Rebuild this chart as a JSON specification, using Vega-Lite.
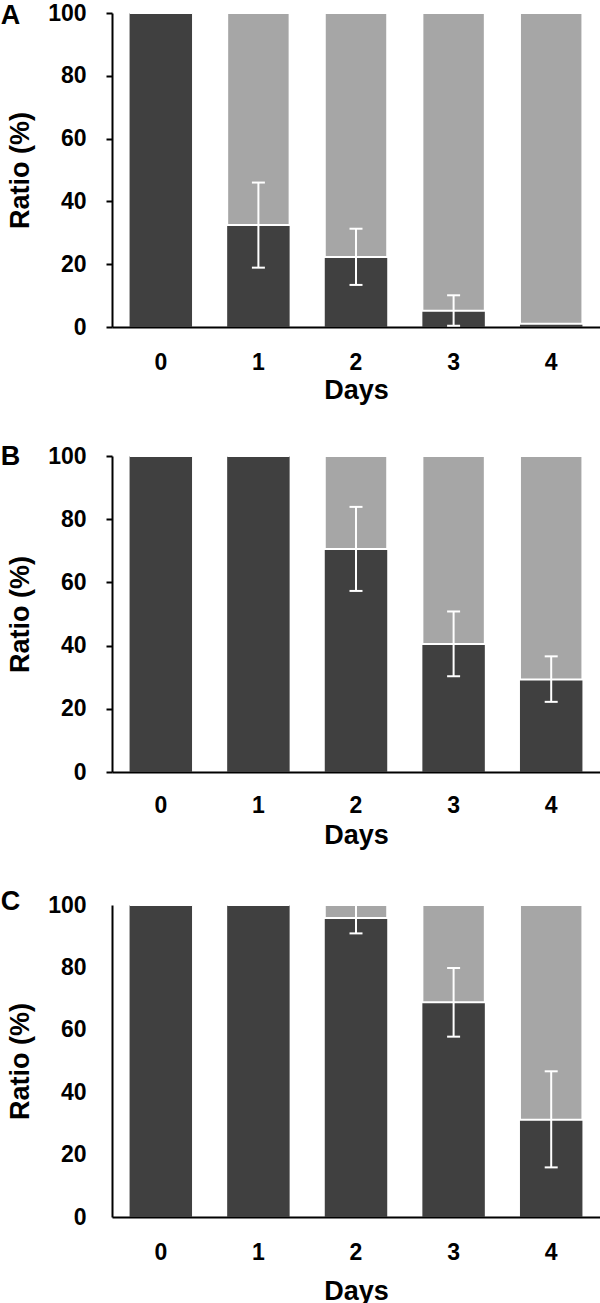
{
  "$schema": "https://vega.github.io/schema/vega-lite/v6.json",
  "padding": {"left": 0, "top": 2, "right": 0, "bottom": 0},
  "spacing": 40,
  "background": "white",
  "config": {
    "view": {"stroke": null},
    "font": "Liberation Sans",
    "axis": {
      "grid": false,
      "domainColor": "black",
      "domainWidth": 2,
      "tickColor": "black",
      "tickWidth": 2,
      "labelFont": "Liberation Sans",
      "labelFontSize": 23,
      "labelFontWeight": "bold",
      "labelColor": "black",
      "titleFont": "Liberation Sans",
      "titleFontSize": 27,
      "titleFontWeight": "bold",
      "titleColor": "black",
      "zindex": 1
    }
  },
  "datasets": {
    "d": [
      {"panel": "A", "day": "0", "v": 100, "lo": null, "hi": null},
      {"panel": "A", "day": "1", "v": 32.5, "lo": 18.9, "hi": 46.0},
      {"panel": "A", "day": "2", "v": 22.3, "lo": 13.4, "hi": 31.3},
      {"panel": "A", "day": "3", "v": 5.2, "lo": 0.4, "hi": 10.1},
      {"panel": "A", "day": "4", "v": 1.0, "lo": null, "hi": null},
      {"panel": "B", "day": "0", "v": 100, "lo": null, "hi": null},
      {"panel": "B", "day": "1", "v": 100, "lo": null, "hi": null},
      {"panel": "B", "day": "2", "v": 70.6, "lo": 57.3, "hi": 83.9},
      {"panel": "B", "day": "3", "v": 40.5, "lo": 30.3, "hi": 50.8},
      {"panel": "B", "day": "4", "v": 29.3, "lo": 22.2, "hi": 36.6},
      {"panel": "C", "day": "0", "v": 100, "lo": null, "hi": null},
      {"panel": "C", "day": "1", "v": 100, "lo": null, "hi": null},
      {"panel": "C", "day": "2", "v": 95.8, "lo": 90.9, "hi": 100.8},
      {"panel": "C", "day": "3", "v": 68.8, "lo": 57.8, "hi": 79.8},
      {"panel": "C", "day": "4", "v": 31.2, "lo": 15.9, "hi": 46.7}
    ]
  },
  "vconcat": [
    {
      "width": 488, "height": 314,
      "encoding": {"x": {"field": "day", "type": "ordinal", "scale": {"domain": ["0", "1", "2", "3", "4"], "paddingInner": 0.36, "paddingOuter": 0.18}, "axis": {"labelAngle": 0, "ticks": false, "labelPadding": 24, "titlePadding": 3, "title": "Days"}}},
      "layer": [
        {"data": {"name": "d"}, "transform": [{"filter": "datum.panel === 'A'"}], "mark": {"type": "bar", "fill": "#404040"}, "encoding": {"y": {"field": "v", "type": "quantitative", "title": "Ratio (%)", "scale": {"domain": [0, 100], "nice": false}, "axis": {"values": [0, 20, 40, 60, 80, 100], "tickSize": 6, "labelPadding": 20, "titlePadding": 13}}}},
        {"data": {"name": "d"}, "transform": [{"filter": "datum.panel === 'A'"}], "mark": {"type": "bar", "fill": "#a6a6a6", "stroke": "white", "strokeWidth": 2}, "encoding": {"y": {"field": "v", "type": "quantitative", "title": "Ratio (%)"}, "y2": {"datum": 100}}},
        {"data": {"name": "d"}, "transform": [{"filter": "datum.panel === 'A'"}], "mark": {"type": "rule", "color": "white", "strokeWidth": 2, "clip": true}, "encoding": {"y": {"field": "lo", "type": "quantitative", "title": "Ratio (%)"}, "y2": {"field": "hi"}}},
        {"data": {"name": "d"}, "transform": [{"filter": "datum.panel === 'A'"}], "mark": {"type": "tick", "color": "white", "thickness": 2, "size": 13, "clip": true, "opacity": 1}, "encoding": {"y": {"field": "lo", "type": "quantitative", "title": "Ratio (%)"}}},
        {"data": {"name": "d"}, "transform": [{"filter": "datum.panel === 'A'"}], "mark": {"type": "tick", "color": "white", "thickness": 2, "size": 13, "clip": true, "opacity": 1}, "encoding": {"y": {"field": "hi", "type": "quantitative", "title": "Ratio (%)"}}},
        {"data": {"values": [{"label": "A"}]}, "mark": {"type": "text", "font": "Liberation Sans", "fontSize": 27, "fontWeight": "bold", "color": "black", "align": "left", "baseline": "middle", "dx": -160, "dy": 3}, "encoding": {"x": {"datum": "0"}, "y": {"datum": 100}, "text": {"field": "label"}}}
      ]
    },
    {
      "width": 488, "height": 316,
      "encoding": {"x": {"field": "day", "type": "ordinal", "scale": {"domain": ["0", "1", "2", "3", "4"], "paddingInner": 0.36, "paddingOuter": 0.18}, "axis": {"labelAngle": 0, "ticks": false, "labelPadding": 22, "titlePadding": 5, "title": "Days"}}},
      "layer": [
        {"data": {"name": "d"}, "transform": [{"filter": "datum.panel === 'B'"}], "mark": {"type": "bar", "fill": "#404040"}, "encoding": {"y": {"field": "v", "type": "quantitative", "title": "Ratio (%)", "scale": {"domain": [0, 100], "nice": false}, "axis": {"values": [0, 20, 40, 60, 80, 100], "tickSize": 6, "labelPadding": 20, "titlePadding": 13}}}},
        {"data": {"name": "d"}, "transform": [{"filter": "datum.panel === 'B'"}], "mark": {"type": "bar", "fill": "#a6a6a6", "stroke": "white", "strokeWidth": 2}, "encoding": {"y": {"field": "v", "type": "quantitative", "title": "Ratio (%)"}, "y2": {"datum": 100}}},
        {"data": {"name": "d"}, "transform": [{"filter": "datum.panel === 'B'"}], "mark": {"type": "rule", "color": "white", "strokeWidth": 2, "clip": true}, "encoding": {"y": {"field": "lo", "type": "quantitative", "title": "Ratio (%)"}, "y2": {"field": "hi"}}},
        {"data": {"name": "d"}, "transform": [{"filter": "datum.panel === 'B'"}], "mark": {"type": "tick", "color": "white", "thickness": 2, "size": 13, "clip": true, "opacity": 1}, "encoding": {"y": {"field": "lo", "type": "quantitative", "title": "Ratio (%)"}}},
        {"data": {"name": "d"}, "transform": [{"filter": "datum.panel === 'B'"}], "mark": {"type": "tick", "color": "white", "thickness": 2, "size": 13, "clip": true, "opacity": 1}, "encoding": {"y": {"field": "hi", "type": "quantitative", "title": "Ratio (%)"}}},
        {"data": {"values": [{"label": "B"}]}, "mark": {"type": "text", "font": "Liberation Sans", "fontSize": 27, "fontWeight": "bold", "color": "black", "align": "left", "baseline": "middle", "dx": -160, "dy": 1}, "encoding": {"x": {"datum": "0"}, "y": {"datum": 100}, "text": {"field": "label"}}}
      ]
    },
    {
      "width": 488, "height": 312,
      "encoding": {"x": {"field": "day", "type": "ordinal", "scale": {"domain": ["0", "1", "2", "3", "4"], "paddingInner": 0.36, "paddingOuter": 0.18}, "axis": {"labelAngle": 0, "ticks": false, "labelPadding": 24, "titlePadding": 14, "title": "Days"}}},
      "layer": [
        {"data": {"name": "d"}, "transform": [{"filter": "datum.panel === 'C'"}], "mark": {"type": "bar", "fill": "#404040"}, "encoding": {"y": {"field": "v", "type": "quantitative", "title": "Ratio (%)", "scale": {"domain": [0, 100], "nice": false}, "axis": {"values": [0, 20, 40, 60, 80, 100], "ticks": false, "labelPadding": 26, "titlePadding": 13}}}},
        {"data": {"name": "d"}, "transform": [{"filter": "datum.panel === 'C'"}], "mark": {"type": "bar", "fill": "#a6a6a6", "stroke": "white", "strokeWidth": 2}, "encoding": {"y": {"field": "v", "type": "quantitative", "title": "Ratio (%)"}, "y2": {"datum": 100}}},
        {"data": {"name": "d"}, "transform": [{"filter": "datum.panel === 'C'"}], "mark": {"type": "rule", "color": "white", "strokeWidth": 2, "clip": true}, "encoding": {"y": {"field": "lo", "type": "quantitative", "title": "Ratio (%)"}, "y2": {"field": "hi"}}},
        {"data": {"name": "d"}, "transform": [{"filter": "datum.panel === 'C'"}], "mark": {"type": "tick", "color": "white", "thickness": 2, "size": 13, "clip": true, "opacity": 1}, "encoding": {"y": {"field": "lo", "type": "quantitative", "title": "Ratio (%)"}}},
        {"data": {"name": "d"}, "transform": [{"filter": "datum.panel === 'C'"}], "mark": {"type": "tick", "color": "white", "thickness": 2, "size": 13, "clip": true, "opacity": 1}, "encoding": {"y": {"field": "hi", "type": "quantitative", "title": "Ratio (%)"}}},
        {"data": {"values": [{"label": "C"}]}, "mark": {"type": "text", "font": "Liberation Sans", "fontSize": 27, "fontWeight": "bold", "color": "black", "align": "left", "baseline": "middle", "dx": -160, "dy": -3}, "encoding": {"x": {"datum": "0"}, "y": {"datum": 100}, "text": {"field": "label"}}}
      ]
    }
  ]
}
